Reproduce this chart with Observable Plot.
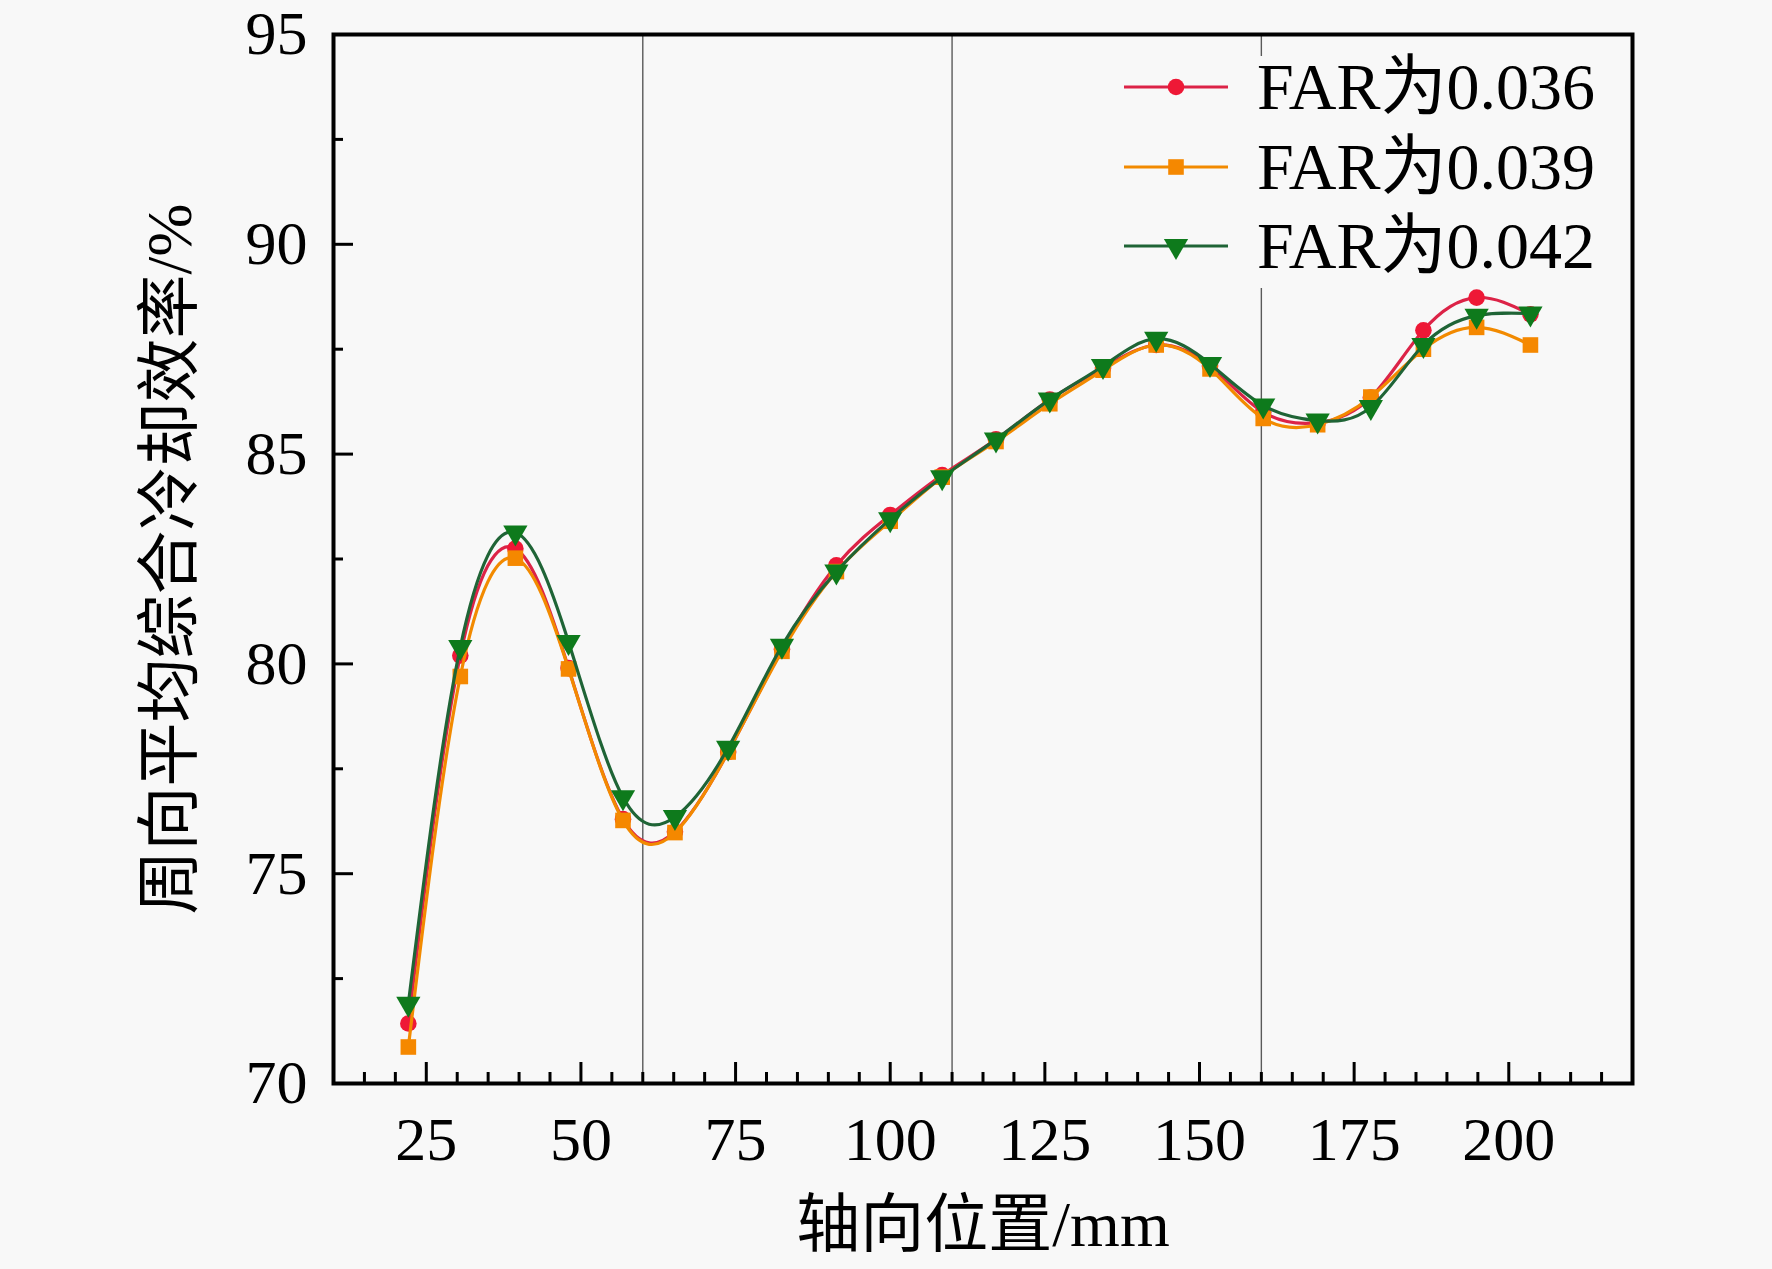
<!DOCTYPE html>
<html>
<head>
<meta charset="utf-8">
<script src="https://cdn.jsdelivr.net/npm/d3@7"></script>
<script src="https://cdn.jsdelivr.net/npm/@observablehq/plot@0.6"></script>
<style>
  html, body { margin: 0; padding: 0; background: #f8f8f8; }
  #wrap { position: relative; width: 1772px; height: 1269px; background: #f8f8f8; }
  #legend { position: absolute; left: 1112px; top: 56px; width: 510px; height: 232px; background: #f8f8f8;
    font-family: "Liberation Serif", "Times New Roman", "Noto Sans CJK SC", serif; font-size: 66px; color: #000; }
  .row { position: absolute; left: 0; height: 80px; display: flex; align-items: center; white-space: nowrap; }
  .row svg { flex: none; }
  .row span { margin-left: 25px; line-height: 1; }
</style>
</head>
<body>
<div id="wrap"><div id="legend"></div></div>
<script>
// ---- data ----
const xPos = [22.1, 30.5, 39.4, 48.0, 56.8, 65.2, 73.8, 82.5, 91.3, 100.0, 108.4, 117.1, 125.8, 134.4, 143.0, 151.7, 160.3, 169.1, 177.7, 186.2, 194.8, 203.5];
const far036 = [71.43, 80.2, 82.75, 79.9, 76.3, 76.0, 77.9, 80.35, 82.35, 83.55, 84.5, 85.35, 86.3, 87.05, 87.6, 87.1, 86.0, 85.75, 86.35, 87.95, 88.73, 88.33];
const far039 = [70.87, 79.7, 82.52, 79.88, 76.27, 75.98, 77.9, 80.3, 82.2, 83.4, 84.45, 85.3, 86.2, 87.0, 87.6, 87.03, 85.85, 85.7, 86.36, 87.5, 88.02, 87.6];
const far042 = [71.9, 80.4, 83.13, 80.52, 76.82, 76.35, 78.0, 80.43, 82.2, 83.45, 84.45, 85.35, 86.3, 87.1, 87.75, 87.15, 86.16, 85.8, 86.12, 87.6, 88.3, 88.35];
const seriesNames = ["FAR为0.036", "FAR为0.039", "FAR为0.042"];
const refLines = [60, 110, 160];
const xMajor = [25, 50, 75, 100, 125, 150, 175, 200];
const xMinor = [15, 20, 30, 35, 40, 45, 55, 60, 65, 70, 80, 85, 90, 95, 105, 110, 115, 120, 130, 135, 140, 145, 155, 160, 165, 170, 180, 185, 190, 195, 205, 210, 215];
const yMajor = [70, 75, 80, 85, 90, 95];
const yMinor = [72.5, 77.5, 82.5, 87.5, 92.5];
const xTitle = "轴向位置/mm";
const yTitle = "周向平均综合冷却效率/%";

// ---- styles ----
const styles = [
  { line: "#dc2347", fill: "#ee1836", symbol: "circle", r: 8.3, rotate: 0 },
  { line: "#f28a00", fill: "#f58800", symbol: "square", r: 8.8, rotate: 0 },
  { line: "#1f6436", fill: "#0e7a1c", symbol: "triangle", r: 9, rotate: 180 }
];
const serif = "'Liberation Serif', 'Times New Roman', 'Noto Sans CJK SC', serif";

const allSeries = [far036, far039, far042];
const tables = allSeries.map((vals, k) => xPos.map((x, i) => ({ x, y: vals[i], s: seriesNames[k] })));

const dataMarks = [];
tables.forEach((t, k) => {
  const st = styles[k];
  dataMarks.push(Plot.line(t, { x: "x", y: "y", curve: "natural", stroke: st.line, strokeWidth: 3.2 }));
  dataMarks.push(Plot.dot(t, { x: "x", y: "y", symbol: st.symbol, r: st.r, fill: st.fill, stroke: "none", rotate: st.rotate }));
});

const chart = Plot.plot({
  width: 1772,
  height: 1269,
  marginLeft: 333,
  marginRight: 140,
  marginTop: 34,
  marginBottom: 186,
  style: { background: "#f8f8f8", fontFamily: serif, color: "#000" },
  x: { domain: [10, 220] },
  y: { domain: [70, 95] },
  marks: [
    Plot.ruleX(refLines, { stroke: "#5a5a5a", strokeWidth: 1.4 }),
    ...dataMarks,
    Plot.frame({ stroke: "#000", strokeWidth: 4 }),
    Plot.axisY(yMajor, { tickSize: -20, tickPadding: 46, fontSize: 62, strokeWidth: 3, label: null, fontFamily: serif }),
    Plot.axisY(yMinor, { tickSize: -10, fill: "none", strokeWidth: 3, label: null }),
    Plot.axisX(xMajor, { tickSize: -21, tickPadding: 53, fontSize: 62, strokeWidth: 3, label: null, fontFamily: serif }),
    Plot.axisX(xMinor, { tickSize: -11, fill: "none", strokeWidth: 3, label: null }),
    Plot.text([yTitle], { frameAnchor: "left", dx: -163, rotate: -90, textAnchor: "middle", lineAnchor: "middle", fontSize: 64, fontFamily: serif, fill: "#000" }),
    Plot.text([xTitle], { frameAnchor: "bottom", dy: 142, textAnchor: "middle", lineAnchor: "middle", fontSize: 64, fontFamily: serif, fill: "#000" })
  ]
});
document.getElementById("wrap").prepend(chart);

// ---- legend ----
const legend = d3.select("#legend");
const rowCenters = [31, 111, 190];
seriesNames.forEach((name, k) => {
  const st = styles[k];
  const row = legend.append("div").attr("class", "row").style("top", (rowCenters[k] - 40) + "px");
  const svg = row.append("svg").attr("width", 120).attr("height", 80);
  svg.append("line").attr("x1", 12).attr("x2", 116).attr("y1", 40).attr("y2", 40)
    .attr("stroke", st.line).attr("stroke-width", 3.2);
  const symType = st.symbol === "circle" ? d3.symbolCircle : st.symbol === "square" ? d3.symbolSquare : d3.symbolTriangle;
  svg.append("path").attr("d", d3.symbol(symType, Math.PI * st.r * st.r)())
    .attr("transform", `translate(64,40) rotate(${st.rotate})`)
    .attr("fill", st.fill);
  row.append("span").text(name);
});
</script>
</body>
</html>
